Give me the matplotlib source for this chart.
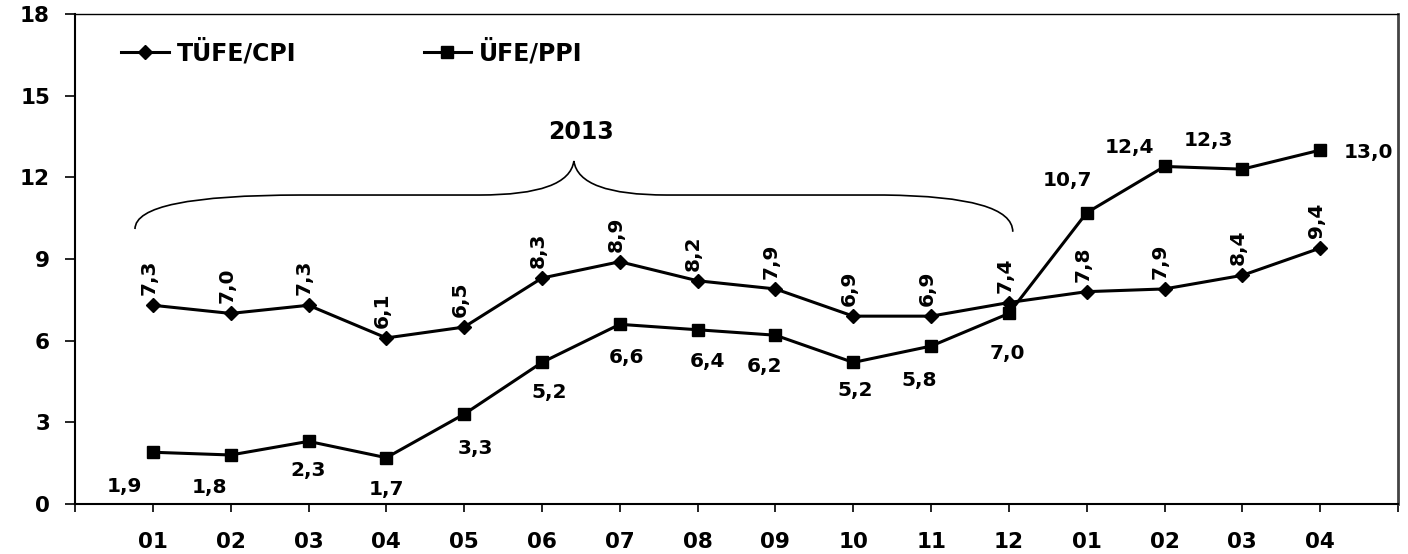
import matplotlib
matplotlib.use('Agg')
import matplotlib.pyplot as plt
from matplotlib.path import Path
from matplotlib.patches import PathPatch

# Yıllık değişim (%) — TÜFE ve ÜFE
months = ['01', '02', '03', '04', '05', '06', '07', '08', '09', '10', '11', '12',
          '01', '02', '03', '04']
cpi = [7.3, 7.0, 7.3, 6.1, 6.5, 8.3, 8.9, 8.2, 7.9, 6.9, 6.9, 7.4, 7.8, 7.9, 8.4, 9.4]
ppi = [1.9, 1.8, 2.3, 1.7, 3.3, 5.2, 6.6, 6.4, 6.2, 5.2, 5.8, 7.0, 10.7, 12.4, 12.3, 13.0]

# décalage des étiquettes ÜFE (pixels) pour éviter les chevauchements
ppi_offsets = [(-28, -34), (-21, -33), (0, -29), (0, -32), (11, -34), (7, -30),
               (7, -33), (10, -32), (-11, -31), (2, -28), (-12, -34), (-2, -40),
               (-19, 32), (-35, 19), (-34, 29), (48, -2)]

plt.rcParams['font.family'] = 'DejaVu Sans'
plt.rcParams['font.weight'] = 'bold'

fig = plt.figure(figsize=(14.08, 5.54), dpi=100)
ax = fig.add_axes([0.0533, 0.0903, 0.9396, 0.8844])

x = list(range(1, len(months) + 1))
ax.plot(x, cpi, color='black', lw=2.2, marker='D', ms=7.5, label='TÜFE/CPI')
ax.plot(x, ppi, color='black', lw=2.2, marker='s', ms=9, label='ÜFE/PPI')

def fmt(v):
    return f'{v:.1f}'.replace('.', ',')

for xi, v in zip(x, cpi):
    ax.annotate(fmt(v), (xi, v), xytext=(-4, 10), textcoords='offset pixels',
                rotation=90, ha='center', va='bottom', fontsize=14.5, fontweight='bold')

for xi, v, (dx, dy) in zip(x, ppi, ppi_offsets):
    ax.annotate(fmt(v), (xi, v), xytext=(dx, dy), textcoords='offset pixels',
                ha='center', va='center', fontsize=14.5, fontweight='bold')

# accolade au-dessus de 2013
verts = [(0.77, 10.1), (0.77, 11.35), (2.9, 11.35),
         (5.2, 11.35),
         (6.35, 11.35), (6.41, 12.6),
         (6.47, 11.35), (7.6, 11.35),
         (10.4, 11.35),
         (12.05, 11.3), (12.05, 10.0)]
codes = [Path.MOVETO, Path.CURVE3, Path.CURVE3,
         Path.LINETO,
         Path.CURVE3, Path.CURVE3,
         Path.CURVE3, Path.CURVE3,
         Path.LINETO,
         Path.CURVE3, Path.CURVE3]
ax.add_patch(PathPatch(Path(verts, codes), fill=False, lw=1.2, color='black'))
ax.text(6.5, 13.65, '2013', ha='center', va='center', fontsize=17, fontweight='bold')

ax.set_xlim(0, 17)
ax.set_ylim(0, 18)
ax.set_yticks(range(0, 19, 3))
ax.set_xticks(range(0, 18))
ax.set_xticklabels([''] + months + [''])
ax.tick_params(axis='x', direction='out', length=6, width=1.2, pad=14, labelsize=15.5)
ax.tick_params(axis='y', direction='out', length=7, width=1.2, pad=11, labelsize=15.5)
for lab in ax.get_xticklabels() + ax.get_yticklabels():
    lab.set_fontweight('bold')

ax.spines['left'].set_linewidth(1.5)
ax.spines['bottom'].set_linewidth(1.5)
ax.spines['top'].set_linewidth(1.0)
ax.spines['right'].set_linewidth(2.0)
ax.spines['right'].set_color('#444444')

ax.legend(loc='center left', bbox_to_anchor=(0.035, 0.922), ncol=2, frameon=False,
          borderpad=0, borderaxespad=0, handlelength=2.0, handletextpad=0.35,
          columnspacing=5.4, prop={'size': 17, 'weight': 'bold'})

fig.savefig('out.png', dpi=100)
